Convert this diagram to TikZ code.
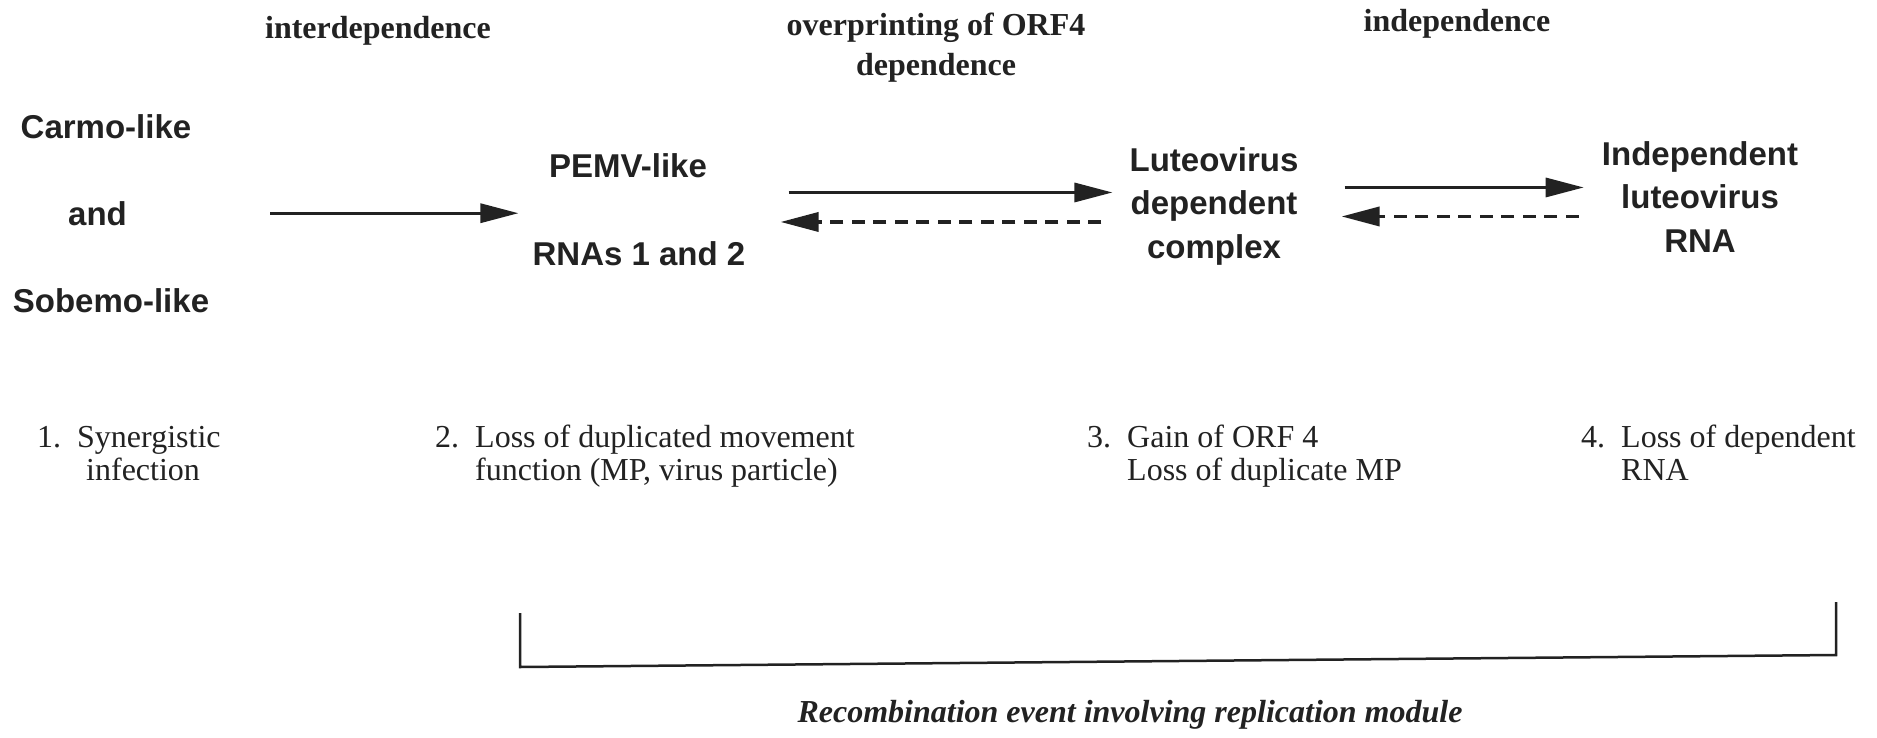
\documentclass[tikz,border=0pt]{standalone}
\usepackage{fontspec}
\setmainfont{Liberation Serif}
\newfontfamily\lsans{Liberation Sans}
\usetikzlibrary{arrows.meta}

\definecolor{ink}{HTML}{222222}

\tikzset{
  head/.style={font=\bfseries\fontsize{32}{40}\selectfont, align=center,
               anchor=base, inner sep=0pt, text=ink},
  virus/.style={font=\lsans\bfseries\fontsize{33}{43.5}\selectfont, align=center,
                anchor=base, inner sep=0pt, text=ink},
  stepnote/.style={font=\fontsize{32}{33}\selectfont, anchor=base west,
                   inner sep=0pt, text=ink},
  recomb/.style={font=\bfseries\itshape\fontsize{32}{36}\selectfont,
                 anchor=base, inner sep=0pt, text=ink},
  fwd/.style={draw=ink, line width=3.2pt,
              -{Triangle[length=38pt,width=19pt]}},
  bwd/.style={draw=ink, line width=3.6pt, dash pattern=on 13pt off 8.5pt,
              -{Triangle[length=38pt,width=19pt]}},
  bracket/.style={draw=ink, line width=2.5pt},
}

\newcommand{\numlbl}[1]{\makebox[40pt][l]{#1}}

\begin{document}
\begin{tikzpicture}[x=1pt, y=-1pt]
\useasboundingbox[fill=white] (0,0) rectangle (1877,737);

% headings over the three transitions (base = baseline of the last line)
\node[head] (hInter) at (378,38) {interdependence};
\node[head] (hOver)  at (936,75) {overprinting of ORF4\\dependence};
\node[head] (hIndep) at (1457,31) {independence};

% ancestral viruses
\node[virus] (carmo)  at (106,138) {Carmo-like};
\node[virus] (andn)   at (97.5,225) {and};
\node[virus] (sobemo) at (111,312) {Sobemo-like};

% intermediate and derived forms
\node[virus] (pemv) at (628,177) {PEMV-like};
\node[virus] (rnas) at (639,265) {RNAs 1 and 2};
\node[virus] (lut)  at (1214,258) {Luteovirus\\dependent\\complex};
\node[virus] (ind)  at (1700,252) {Independent\\luteovirus\\RNA};

% transitions
\draw[fwd, shorten <=143pt, shorten >=14pt] (andn.east) -- (andn.east -| rnas.west);

\path ([yshift=13.5pt]lut.west) coordinate (lutA)
      ([yshift=-16pt]lut.west)  coordinate (lutB)
      ([yshift=18.5pt]lut.east) coordinate (lutC)
      ([yshift=-10.5pt]lut.east) coordinate (lutD);
\draw[fwd, shorten <=43pt, shorten >=17pt] (rnas.east |- lutA) -- (lutA);
\draw[bwd, shorten <=28pt, shorten >=35pt] (lutB) -- (rnas.east |- lutB);
\draw[fwd, shorten <=46pt, shorten >=18pt] (lutC) -- (ind.west |- lutC);
\draw[bwd, shorten <=23pt, shorten >=43pt] (ind.west |- lutD) -- (lutD);

% steps
\node[stepnote] (s1) at (37,447)
  {\numlbl{1.}\begin{tabular}[t]{@{}l@{}}Synergistic\\\hspace{9pt}infection\end{tabular}};
\node[stepnote] (s2) at (435,447)
  {\numlbl{2.}\begin{tabular}[t]{@{}l@{}}Loss of duplicated movement\\function (MP, virus particle)\end{tabular}};
\node[stepnote] (s3) at (1087,447)
  {\numlbl{3.}\begin{tabular}[t]{@{}l@{}}Gain of ORF 4\\Loss of duplicate MP\end{tabular}};
\node[stepnote] (s4) at (1581,447)
  {\numlbl{4.}\begin{tabular}[t]{@{}l@{}}Loss of dependent\\RNA\end{tabular}};

% bracket spanning steps 2--4
\coordinate (bTL) at (520,613);
\coordinate (bBL) at (520,667);
\coordinate (bBR) at (1836,655);
\coordinate (bTR) at (1836,602);
\draw[bracket] (bTL) -- (bBL) -- (bBR) -- (bTR);
\node[recomb] (rec) at (1130,722) {Recombination event involving replication module};
\end{tikzpicture}
\end{document}
